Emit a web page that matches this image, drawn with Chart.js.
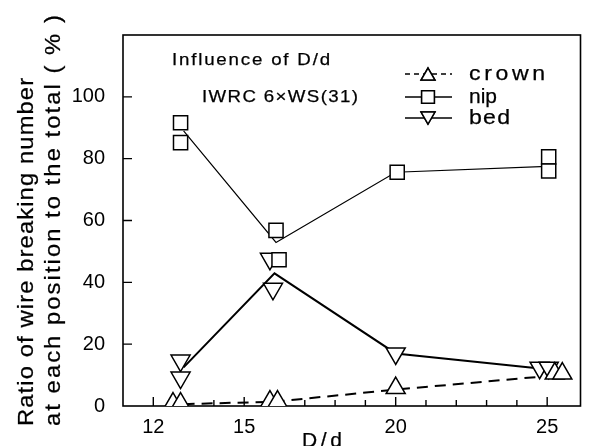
<!DOCTYPE html>
<html><head><meta charset="utf-8">
<script src="https://cdn.jsdelivr.net/npm/chart.js@4.4.0/dist/chart.umd.min.js"></script>
<style>html,body{margin:0;padding:0;background:#fff;}#wrap{width:593px;height:446px;position:relative;}</style>
</head><body><div id="wrap"><canvas id="c" width="593" height="446"></canvas></div>
<script>
// mean lines (drawn without markers)
const crownLineX = [13, 16, 20, 24.8];
const crownLineY = [0.6, 1.4, 5.3, 9.5];
const nipLineX = [13, 16.05, 20, 25];
const nipLineY = [89, 52.9, 75.6, 77.5];
const bedLineX = [13, 16.0, 20, 24.6];
const bedLineY = [12.5, 42.9, 17, 12.3];
// individual measurements (markers)
const crownPtsX = [12.65, 12.9, 15.85, 16.1, 20, 25.25, 25.5];
const crownPtsY = [0.8, 0.8, 1.45, 1.45, 5.8, 10.5, 10.5];
const nipPtsX = [12.9, 12.9, 16.05, 16.15, 20.05, 25.05, 25.05];
const nipPtsY = [91.6, 85.2, 56.8, 47.3, 75.6, 80.6, 76];
const bedPtsX = [12.9, 12.9, 15.85, 15.95, 20, 24.75, 25.05];
const bedPtsY = [14.7, 9.2, 47.6, 37.9, 17, 12.4, 12.4];
// labels
const xTickLabels = [12, 15, 20, 25];
const yTickLabels = [0, 20, 40, 60, 80, 100];
const seriesNames = ['crown', 'nip', 'bed'];
const xTitle = 'D/d';
const yTitle = ['Ratio of wire breaking number', 'at each position to the total ( % )'];
const notes = ['Influence of D/d', 'IWRC 6\u00D7WS(31)'];

const FONT = '"Liberation Sans", Arial, Helvetica, sans-serif';
const pts = (xs, ys) => xs.map((x, i) => ({x: x, y: ys[i]}));

function fitText(ctx, text, x, y, width, size, maxScale) {
  ctx.save();
  ctx.font = size + 'px ' + FONT;
  ctx.letterSpacing = '0px';
  const w0 = ctx.measureText(text).width;
  const s = Math.min(maxScale || 1.1, width / w0);
  const sp = (width - w0 * s) / Math.max(1, text.length - 1) / s;
  ctx.letterSpacing = sp.toFixed(2) + 'px';
  ctx.translate(x, y);
  ctx.scale(s, 1);
  ctx.fillText(text, 0, 0);
  ctx.strokeStyle = ctx.fillStyle;
  ctx.lineWidth = 0.25;
  ctx.strokeText(text, 0, 0);
  ctx.restore();
}

function marker(ctx, style, x, y, r, rot) {
  ctx.save();
  ctx.fillStyle = '#fff';
  ctx.strokeStyle = '#000';
  ctx.lineWidth = 1.5;
  ctx.setLineDash([]);
  Chart.helpers.drawPoint(ctx, {pointStyle: style, radius: r, rotation: rot || 0, borderWidth: 1.5}, x, y);
  ctx.fill();
  ctx.stroke();
  ctx.restore();
}

const framePlugin = {
  id: 'frame',
  beforeDatasetsDraw(chart) {
    const ctx = chart.ctx, a = chart.chartArea;
    const xs = chart.scales.x, ys = chart.scales.y;
    ctx.save();
    ctx.strokeStyle = '#000';
    ctx.lineWidth = 1.6;
    ctx.strokeRect(a.left, a.top, a.right - a.left, a.bottom - a.top);
    ctx.lineWidth = 1.4;
    ctx.beginPath();
    xs.ticks.forEach(t => {
      const v = t.value;
      if (v <= xs.min || v >= xs.max || Math.abs(v - Math.round(v)) > 1e-6) return;
      const px = xs.getPixelForValue(v);
      const len = xTickLabels.includes(v) ? 9 : 6;
      ctx.moveTo(px, a.bottom);
      ctx.lineTo(px, a.bottom - len);
    });
    ys.ticks.forEach(t => {
      const v = t.value;
      if (v <= ys.min || v >= ys.max) return;
      const py = ys.getPixelForValue(v);
      ctx.moveTo(a.left, py);
      ctx.lineTo(a.left + 9, py);
    });
    ctx.stroke();
    ctx.restore();
  },
  afterDraw(chart) {
    const ctx = chart.ctx;
    ctx.save();
    ctx.fillStyle = '#000';
    ctx.textBaseline = 'alphabetic';
    ctx.textAlign = 'left';
    // notes
    fitText(ctx, notes[0], 172, 65, 158, 17, 1.1);
    fitText(ctx, notes[1], 202, 102, 156, 17, 1.1);
    // x title
    fitText(ctx, xTitle, 302, 447, 40, 20, 1.05);
    // y title
    ctx.save();
    ctx.translate(33, 426);
    ctx.rotate(-Math.PI / 2);
    fitText(ctx, yTitle[0], 0, 0, 348, 22, 1.08);
    ctx.restore();
    ctx.save();
    ctx.translate(60, 426);
    ctx.rotate(-Math.PI / 2);
    fitText(ctx, yTitle[1], 0, 0, 411, 22, 1.08);
    ctx.restore();
    // legend
    const rows = [
      {y: 74, dash: [5, 4], lw: 1.6, style: 'triangle', r: 8, rot: 0, tw: 76},
      {y: 97, dash: [], lw: 1.6, style: 'rect', r: 9, rot: 0, tw: 28},
      {y: 118, dash: [], lw: 1.6, style: 'triangle', r: 8, rot: 180, tw: 41}
    ];
    rows.forEach((row, i) => {
      ctx.save();
      ctx.strokeStyle = '#000';
      ctx.lineWidth = row.lw;
      ctx.setLineDash(row.dash);
      ctx.beginPath();
      ctx.moveTo(405, row.y);
      ctx.lineTo(452, row.y);
      ctx.stroke();
      ctx.restore();
      marker(ctx, row.style, 428, row.y + (row.style === 'triangle' ? (row.rot ? -2 : 2) : 0), row.r, row.rot);
      ctx.fillStyle = '#000';
      fitText(ctx, seriesNames[i], 469, row.y + 6, row.tw, 21, 1.1);
    });
    ctx.restore();
  }
};

const lineDs = (xs, ys, w, dash) => ({
  type: 'scatter', data: pts(xs, ys), showLine: true, borderColor: '#000', borderWidth: w,
  borderDash: dash, pointRadius: 0, pointHoverRadius: 0, fill: false, tension: 0, order: 2
});
const ptDs = (xs, ys, style, r, rot) => ({
  type: 'scatter', data: pts(xs, ys), showLine: false, pointStyle: style, pointRadius: r,
  pointRotation: rot, pointBackgroundColor: '#fff', pointBorderColor: '#000', pointBorderWidth: 1.5,
  pointHoverRadius: r, order: 1
});

new Chart(document.getElementById('c'), {
  type: 'scatter',
  data: {
    datasets: [
      lineDs(crownLineX, crownLineY, 2, [11, 7]),
      lineDs(nipLineX, nipLineY, 1.2, []),
      lineDs(bedLineX, bedLineY, 2, []),
      ptDs(crownPtsX, crownPtsY, 'triangle', 11, 0),
      ptDs(nipPtsX, nipPtsY, 'rect', 10, 0),
      ptDs(bedPtsX, bedPtsY, 'triangle', 11, 180)
    ]
  },
  options: {
    responsive: false,
    animation: false,
    devicePixelRatio: 1,
    layout: {padding: {top: 35, right: 7, left: 0, bottom: 0}},
    plugins: {legend: {display: false}, tooltip: {enabled: false}, title: {display: false}},
    events: [],
    scales: {
      x: {
        type: 'linear', min: 11, max: 26.1,
        grid: {display: false}, border: {display: false},
        ticks: {stepSize: 1, autoSkip: false, maxRotation: 0, color: '#000', padding: 1,
          font: {family: FONT, size: 20},
          callback: v => xTickLabels.includes(v) ? String(v) : ''},
        afterFit: s => { s.height = 40; }
      },
      y: {
        type: 'linear', min: 0, max: 120,
        grid: {display: false}, border: {display: false},
        ticks: {stepSize: 20, autoSkip: false, color: '#000', padding: 10,
          font: {family: FONT, size: 20},
          callback: v => yTickLabels.includes(v) ? String(v) : ''},
        afterFit: s => { s.width = 123; }
      }
    }
  },
  plugins: [framePlugin]
});
</script>
</body></html>
